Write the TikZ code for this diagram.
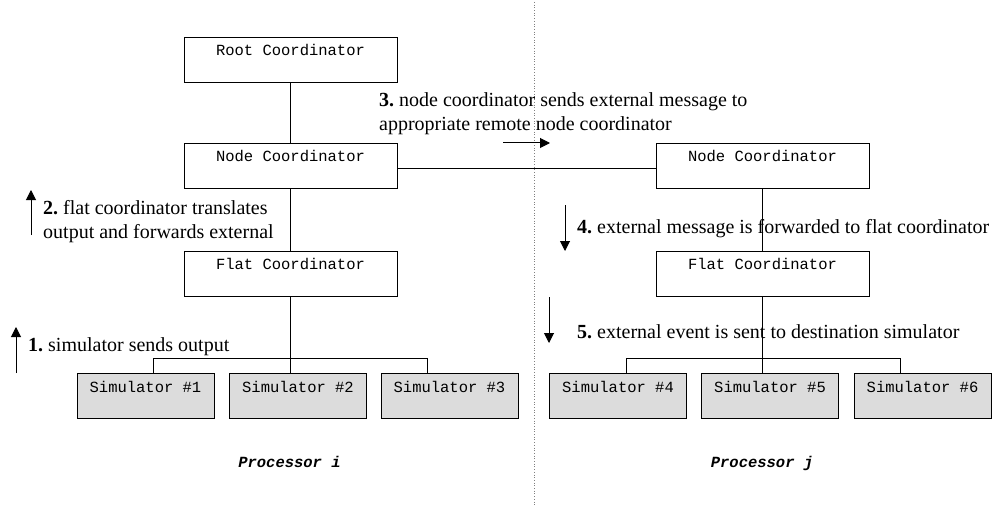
\documentclass[tikz,border=0pt]{standalone}
\usepackage{fontspec}
\setmainfont{Liberation Serif}
\setmonofont{Liberation Mono}
\usetikzlibrary{arrows.meta}
\frenchspacing
\begin{document}
\begin{tikzpicture}[x=1pt,y=-1pt,
  box/.style={draw, line width=0.9pt, anchor=north, minimum width=213pt, inner xsep=0pt, inner ysep=0pt,
    text height=18pt, text depth=27pt, font=\fontsize{15.5}{18}\ttfamily},
  simbox/.style={box, minimum width=137pt, fill=simgray, text height=19pt, text depth=26pt},
  conn/.style={line width=0.9pt},
  flow/.style={line width=1pt, -{Triangle[length=10pt,width=10pt]}},
  lab/.style={anchor=base west, inner sep=0pt, font=\fontsize{20}{24}\selectfont},
  proc/.style={anchor=base, inner sep=0pt, font=\fontsize{15.5}{18}\ttfamily\bfseries\itshape}]
\definecolor{simgray}{RGB}{220,220,220}
\useasboundingbox (0,0) rectangle (995,505);
% separator
\draw[dotted, line width=0.7pt, gray] (534,2) -- (534,505);
% left processor
\node[box] (root) at (290.5,37) {Root Coordinator};
\node[box] (nodeL) at (290.5,143.5) {Node Coordinator};
\node[box] (flatL) at (290.5,251) {Flat Coordinator};
\node[simbox] (sim1) at (145.5,373) {Simulator \#1};
\node[simbox] (sim2) at (298,373) {Simulator \#2};
\node[simbox] (sim3) at (449.5,373) {Simulator \#3};
% right processor
\node[box] (nodeR) at (762.5,143.5) {Node Coordinator};
\node[box] (flatR) at (762.5,251) {Flat Coordinator};
\node[simbox] (sim4) at (618,373) {Simulator \#4};
\node[simbox] (sim5) at (770,373) {Simulator \#5};
\node[simbox] (sim6) at (922.5,373) {Simulator \#6};
% connectors
\draw[conn] (root.south) -- (nodeL.north);
\draw[conn] (nodeL.south) -- (flatL.north);
\draw[conn] (nodeL.east |- 0,168) -- (nodeR.west |- 0,168);
\draw[conn] (nodeR.south) -- (flatR.north);
\coordinate (bL1) at (153,358);
\coordinate (bL3) at (427,358);
\coordinate (bR1) at (626,358);
\coordinate (bR3) at (900,358);
\draw[conn] (flatL.south) -- (flatL.south |- sim2.north);
\draw[conn] (bL1 |- sim1.north) -- (bL1) -- (bL3) -- (bL3 |- sim3.north);
\draw[conn] (flatR.south) -- (flatR.south |- sim5.north);
\draw[conn] (bR1 |- sim4.north) -- (bR1) -- (bR3) -- (bR3 |- sim6.north);
% flow arrows
\coordinate (a1s) at (16,373); \coordinate (a1e) at (16,327);
\coordinate (a2s) at (31,235); \coordinate (a2e) at (31,190);
\coordinate (a3s) at (503,143); \coordinate (a3e) at (550,143);
\coordinate (a4s) at (565,205); \coordinate (a4e) at (565,251);
\coordinate (a5s) at (549,297); \coordinate (a5e) at (549,343);
\draw[flow] (a1s) -- (a1e);
\draw[flow] (a2s) -- (a2e);
\draw[flow] (a3s) -- (a3e);
\draw[flow] (a4s) -- (a4e);
\draw[flow] (a5s) -- (a5e);
% labels
\node[lab] (l1) at (28,351) {\textbf{1.} simulator sends output};
\node[lab] (l2a) at (43,214) {\textbf{2.} flat coordinator translates};
\node[lab] (l2b) at (43,238) {output and forwards external};
\node[lab] (l3a) at (379,107) {\textbf{3.} node coordinator sends external message to};
\node[lab] (l3b) at (379,131) {appropriate remote node coordinator};
\node[lab] (l4) at (577,233) {\textbf{4.} external message is forwarded to flat coordinator};
\node[lab] (l5) at (577,338) {\textbf{5.} external event is sent to destination simulator};
% processor captions
\node[proc] (pi) at (289.5,467) {Processor i};
\node[proc] (pj) at (762,467) {Processor j};
\end{tikzpicture}
\end{document}
